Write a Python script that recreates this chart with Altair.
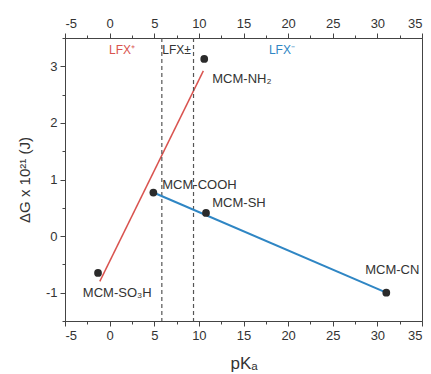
import altair as alt
import pandas as pd

# ---- data ----
names = ["MCM-SO\u2083H", "MCM-COOH", "MCM-SH", "MCM-NH\u2082", "MCM-CN"]
pka = [-1.3, 4.9, 10.8, 10.6, 31.0]
dg = [-0.65, 0.77, 0.41, 3.13, -1.0]

# annotation anchors (data units)
label_x = [-3.0, 5.9, 11.5, 11.5, 34.7]
label_y = [-1.0, 0.9, 0.58, 2.78, -0.6]
label_align = ["left", "left", "left", "left", "right"]

# red fit line (LFX+) and blue line (LFX-)
red_x = [-1.1, 10.5]
red_y = [-0.8, 2.92]
blue_x = [4.9, 31.0]
blue_y = [0.77, -1.0]

# region borders and names
borders = [5.85, 9.4]
region_names = ["LFX\u207a", "LFX\u00b1", "LFX\u207b"]
region_x = [1.4, 7.5, 19.3]
region_y = [3.28, 3.28, 3.28]
region_col = ["#d9534f", "#333333", "#2f86c4"]

# tick values
x_major = [-5, 0, 5, 10, 15, 20, 25, 30, 35]
x_minor = [-2.5, 2.5, 7.5, 12.5, 17.5, 22.5, 27.5, 32.5]
y_major = [-1, 0, 1, 2, 3]
y_minor = [-1.5, -0.5, 0.5, 1.5, 2.5, 3.5]

FONT = "Liberation Sans"
GRAY = "#333333"
AX = "#444444"

pts = pd.DataFrame({"name": names, "pka": pka, "dg": dg})
labs = pd.DataFrame({"name": names, "x": label_x, "y": label_y, "al": label_align})
red = pd.DataFrame({"x": red_x, "y": red_y})
blue = pd.DataFrame({"x": blue_x, "y": blue_y})
bord = pd.DataFrame({"x": borders})
reg = pd.DataFrame({"t": region_names, "x": region_x, "y": region_y, "c": region_col})

xscale = alt.Scale(domain=[-5, 35], nice=False, zero=False)
yscale = alt.Scale(domain=[-1.5, 3.5], nice=False, zero=False)

lab_style = dict(labelFont=FONT, labelFontSize=13, labelColor=GRAY, labelPadding=3,
                 domainColor=AX, tickColor=AX, grid=False,
                 labelExpr="'' + datum.value")

xb_major = alt.Axis(orient="bottom", values=x_major, tickSize=5, title="pK\u2090",
                    titleFont=FONT, titleFontSize=17, titleFontWeight="normal",
                    titleColor=GRAY, titlePadding=13, **lab_style)
xt_major = alt.Axis(orient="top", values=x_major, tickSize=5, title=None, **lab_style)
xb_minor = alt.Axis(orient="bottom", values=x_minor, tickSize=3, labels=False,
                    domain=False, title=None, tickColor=AX, grid=False)
xt_minor = alt.Axis(orient="top", values=x_minor, tickSize=3, labels=False,
                    domain=False, title=None, tickColor=AX, grid=False)
y_maj = alt.Axis(orient="left", values=y_major, tickSize=5,
                 title="\u0394G x 10\u00b2\u00b9 (J)",
                 titleFont=FONT, titleFontSize=15, titleFontWeight="normal",
                 titleColor=GRAY, titlePadding=13, **lab_style)
y_min = alt.Axis(orient="left", values=y_minor, tickSize=3, labels=False, domain=False,
                 title=None, tickColor=AX, grid=False)

redline = alt.Chart(red).mark_line(color="#d9534f", strokeWidth=1.5).encode(
    x=alt.X("x:Q", scale=xscale, axis=xb_major),
    y=alt.Y("y:Q", scale=yscale, axis=y_maj),
)
rules = alt.Chart(bord).mark_rule(color="#555555", strokeDash=[4, 3], strokeWidth=1.2).encode(
    x=alt.X("x:Q", scale=xscale, axis=xt_major)
)
blueline = alt.Chart(blue).mark_line(color="#2f86c4", strokeWidth=2).encode(
    x=alt.X("x:Q", scale=xscale, axis=xb_minor),
    y=alt.Y("y:Q", scale=yscale, axis=y_min),
)
points = alt.Chart(pts).mark_circle(color="#2b2b2b", size=60, opacity=1).encode(
    x=alt.X("pka:Q", scale=xscale, axis=xt_minor),
    y=alt.Y("dg:Q", scale=yscale, axis=None),
)

left_labs = alt.Chart(labs).transform_filter("datum.al == 'left'").mark_text(
    align="left", baseline="middle", font=FONT, fontSize=13, color=GRAY
).encode(x=alt.X("x:Q", scale=xscale, axis=None),
         y=alt.Y("y:Q", scale=yscale, axis=None), text="name:N")
right_labs = alt.Chart(labs).transform_filter("datum.al == 'right'").mark_text(
    align="right", baseline="middle", font=FONT, fontSize=13, color=GRAY
).encode(x=alt.X("x:Q", scale=xscale, axis=None),
         y=alt.Y("y:Q", scale=yscale, axis=None), text="name:N")

regions = alt.Chart(reg).mark_text(
    align="center", baseline="middle", font=FONT, fontSize=12
).encode(
    x=alt.X("x:Q", scale=xscale, axis=None),
    y=alt.Y("y:Q", scale=yscale, axis=None),
    text="t:N",
    color=alt.Color("c:N", scale=None),
)

chart = (
    alt.layer(redline, rules, blueline, points, left_labs, right_labs, regions)
    .resolve_axis(x="independent", y="independent")
    .properties(
        width=357,
        height=283,
        autosize=alt.AutoSizeParams(type="none"),
        padding={"left": 65, "top": 38, "right": 9, "bottom": 53},
        background="white",
    )
    .configure_view(stroke=AX, strokeWidth=1)
)

chart.save("out.html", embed_options={"renderer": "svg", "actions": False})
